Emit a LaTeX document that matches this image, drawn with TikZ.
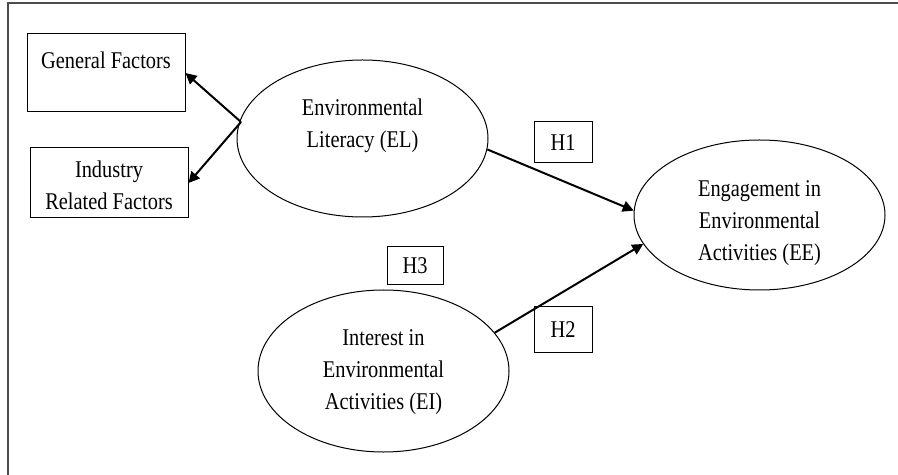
\documentclass[tikz,border=0pt]{standalone}
\usepackage{fontspec}
\setmainfont{Liberation Serif}[FakeStretch=0.85]
\usetikzlibrary{shapes.geometric,arrows.meta}

\begin{document}
\begin{tikzpicture}[x=0.5pt, y=-0.5pt, font=\fontsize{12}{16}\selectfont,
    box/.style={rectangle, draw, line width=0.5pt, inner sep=0pt, align=center},
    oval/.style={ellipse, draw, line width=0.5pt, inner sep=0pt, minimum width=125.5pt, align=center},
    link/.style={line width=1pt, -{Triangle[length=5.5pt,width=5.5pt]}}]

    \useasboundingbox (0,0) rectangle (898,475);

    % Frame (top and left only)
    \draw[black!70, line width=0.8pt] (898,3) -- (8,3) -- (8,475);

    % Factor boxes
    \node[box, minimum width=79pt, minimum height=39pt] (gen) at (106,73) {\raisebox{6.5pt}[\height][\depth]{General Factors}};
    \node[box, minimum width=79pt, minimum height=35pt] (ind) at (109,183) {\raisebox{-2.25pt}[\height][\depth]{\begin{tabular}{@{}c@{}}Industry\\Related Factors\end{tabular}}};

    % Ellipses
    \node[oval, minimum height=78.5pt] (el) at (362.5,138.5) {\raisebox{6.5pt}[\height][\depth]{\begin{tabular}{@{}c@{}}Environmental\\Literacy (EL)\end{tabular}}};
    \node[oval, minimum height=75pt] (ee) at (759.5,215) {\raisebox{-3.5pt}[\height][\depth]{\begin{tabular}{@{}c@{}}Engagement in\\Environmental\\Activities (EE)\end{tabular}}};
    \node[oval, minimum height=81pt] (ei) at (383.5,371) {\begin{tabular}{@{}c@{}}Interest in\\Environmental\\Activities (EI)\end{tabular}};

    % Hypothesis labels
    \node[box, minimum width=29pt, minimum height=20.5pt] (h1) at (563,142.5) {H1};
    \node[box, minimum width=28pt, minimum height=19pt] (h3) at (415,265.5) {H3};
    \node[box, minimum width=29pt, minimum height=22.5pt] (h2) at (563,329.5) {H2};

    % Edges
    \coordinate (split) at (241,122); % where the two factor arrows meet
    \draw[link] (split) -- (gen.east);
    \draw[link] (split) -- (ind.east);
    \draw[link] (el.-5) -- (ee.178);
    \draw[link] (ei.19) -- (ee.194);

\end{tikzpicture}
\end{document}
